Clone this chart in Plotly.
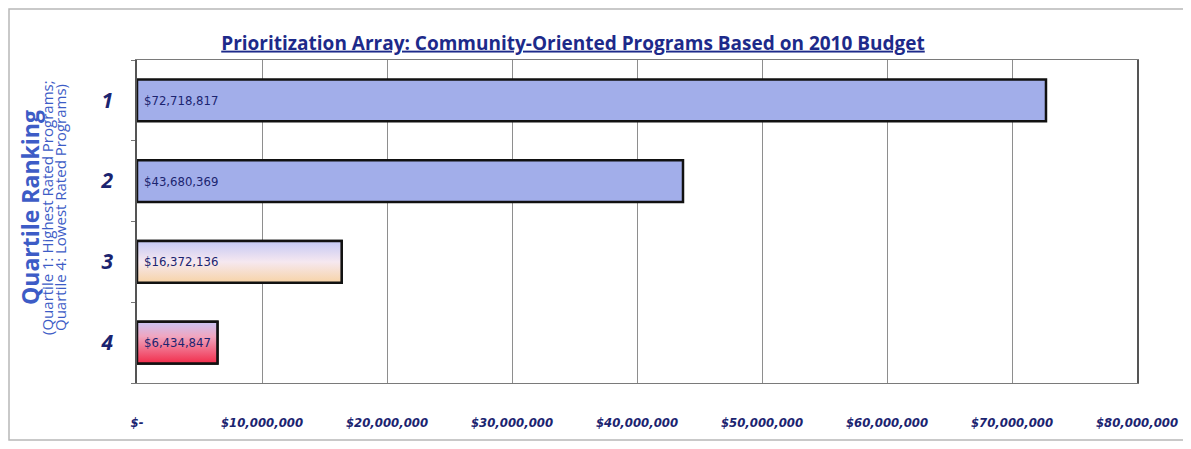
import plotly.graph_objects as go

# ---- data ----
quartiles = [1, 2, 3, 4]
quartile_labels = ["1", "2", "3", "4"]
budgets = [72718817, 43680369, 16372136, 6434847]
x_tick_values = [0, 10000000, 20000000, 30000000, 40000000, 50000000, 60000000, 70000000, 80000000]
x_tick_labels = ["$-", "$10,000,000", "$20,000,000", "$30,000,000", "$40,000,000",
                 "$50,000,000", "$60,000,000", "$70,000,000", "$80,000,000"]

# ---- style ----
OFF = 8  # page body margin offset
W, H = 1191 - OFF, 449 - OFF
ML, MR, MT, MB = 137 - OFF, 54, 60 - OFF, 66
BAR_W = 0.52
NAVY = "#1b2470"
COND = "DejaVu Sans Condensed, Roboto, sans-serif"
solid_colors = ["#a2aeea", "#a2aeea", "#ead8e8", "#ee7f98"]
gradients = {
    2: [[0, "#c4c8f4"], [0.5, "#f6e8f0"], [1, "#f7d3a6"]],
    3: [[0, "#c8c4f4"], [0.35, "#f0a6c0"], [1, "#f22c4a"]],
}

fig = go.Figure()
fig.add_trace(go.Bar(
    x=budgets, y=quartiles, orientation="h", width=BAR_W,
    marker=dict(color=solid_colors, line=dict(color="#111111", width=2.5)),
    hoverinfo="x+y", showlegend=False,
))

for i, grad in gradients.items():
    v = budgets[i]
    q = quartiles[i]
    y0, y1 = q - BAR_W / 2, q + BAR_W / 2
    fig.add_trace(go.Scatter(
        x=[0, v, v, 0, 0], y=[y0, y0, y1, y1, y0],
        mode="lines", fill="toself",
        fillgradient=dict(type="vertical", colorscale=grad, start=y0, stop=y1),
        line=dict(color="#111111", width=2.5),
        hoverinfo="skip", showlegend=False,
    ))

for q, v in zip(quartiles, budgets):
    fig.add_annotation(
        x=0, y=q, xref="x", yref="y", text=f"${v:,}", showarrow=False,
        xanchor="left", yanchor="middle", xshift=5,
        font=dict(family=COND, size=13, color=NAVY),
    )

pw, ph = W - ML - MR, H - MT - MB
def px_x(p):
    return (p - OFF - ML) / pw
def px_y(p):
    return (H - MB - (p - OFF)) / ph

# outer frame
fig.add_shape(type="rect", xref="paper", yref="paper",
              x0=px_x(9), x1=px_x(1184), y0=px_y(440), y1=px_y(9),
              line=dict(color="#b8b8b8", width=1.5), layer="below")

# y axis title
fig.add_annotation(x=px_x(30), y=px_y(208), xref="paper", yref="paper",
                   xanchor="center", yanchor="middle",
                   text="<b>Quartile Ranking</b>", textangle=-90, showarrow=False,
                   font=dict(family="Open Sans", size=23, color="#3d5cc6"))
fig.add_annotation(x=px_x(47), y=px_y(208), xref="paper", yref="paper",
                   xanchor="center", yanchor="middle",
                   text="(Quartile 1: Highest Rated Programs;",
                   textangle=-90, showarrow=False,
                   font=dict(family="Open Sans", size=15, color="#3d5cc6"))
fig.add_annotation(x=px_x(60), y=px_y(208), xref="paper", yref="paper",
                   xanchor="center", yanchor="middle",
                   text="Quartile 4: Lowest Rated Programs)",
                   textangle=-90, showarrow=False,
                   font=dict(family="Open Sans", size=15, color="#3d5cc6"))

fig.update_layout(
    width=W, height=H,
    margin=dict(l=ML, r=MR, t=MT, b=MB),
    paper_bgcolor="white", plot_bgcolor="white",
    title=dict(text="Prioritization Array: Community-Oriented Programs Based on 2010 Budget",
               xref="container", yref="container", x=(573 - OFF) / W, y=1 - (43 - OFF) / H,
               xanchor="center", yanchor="middle",
               font=dict(family="Open Sans", size=19, color="#1d2a8a", weight="bold",
                         lineposition="under")),
    xaxis=dict(range=[0, 80000000], tickvals=x_tick_values, ticktext=x_tick_labels,
               showgrid=True, gridcolor="#8e8e8e", gridwidth=1,
               showline=True, linecolor="#7a7a7a", linewidth=1, mirror=True,
               ticks="", zeroline=False, ticklabelstandoff=27,
               tickfont=dict(family=COND, size=13, color=NAVY,
                             style="italic", weight="bold")),
    yaxis=dict(range=[4.5, 0.5], tickvals=quartiles, ticktext=quartile_labels,
               showgrid=False, showline=True, linecolor="#555555", linewidth=1.5,
               mirror=True, ticks="", zeroline=False, ticklabelstandoff=18,
               minor=dict(tickvals=[0.5, 1.5, 2.5, 3.5, 4.5], ticks="outside",
                          ticklen=4, tickcolor="#777777"),
               tickfont=dict(family="Open Sans", size=21, color=NAVY,
                             style="italic", weight="bold")),
)

fig.write_html("out.html")
